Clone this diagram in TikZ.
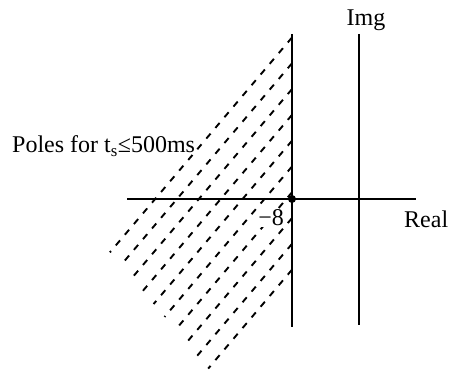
\documentclass[tikz,border=0pt]{standalone}
\usepackage{fontspec}
\setmainfont{Liberation Serif}
\begin{document}
\begin{tikzpicture}[x=1pt,y=-1pt,
  axisline/.style={line width=2.2pt},
  hatch/.style={line width=1.9pt,dash pattern=on 6.5pt off 7.5pt},
  lbl/.style={font=\fontsize{24}{28}\selectfont,inner sep=0pt},
  pole/.style={circle,fill=black,inner sep=0pt,minimum size=8pt}]
\useasboundingbox (0,0) rectangle (450,374);
% dashed region
\foreach \i in {0,...,9}{
  \pgfmathsetmacro{\ys}{37.5+25.8*\i}
  \pgfmathsetmacro{\xe}{109.9+10.92*\i}
  \pgfmathsetmacro{\ye}{\ys+1.18*(292-\xe)}
  \coordinate (hs\i) at (292,\ys);
  \coordinate (he\i) at (\xe,\ye);
  \draw[hatch] (hs\i) -- (he\i);
}
% axes
\coordinate (vt) at (292,34);
\coordinate (vb) at (292,327);
\coordinate (it) at (359,34);
\coordinate (ib) at (359,325);
\coordinate (rl) at (127,199);
\coordinate (rr) at (416,199);
\draw[axisline] (rl) -- (rr);
\draw[axisline] (vt) -- (vb);
\draw[axisline] (it) -- (ib);
\node[pole] (p) at (292,199) {};
% labels
\node[lbl,anchor=base] (img) at (366,25.5) {Img};
\node[lbl,anchor=base west] (real) at (404,228) {Real};
\node[lbl,anchor=base east,fill=white,inner sep=1pt] (m8) at (285,225.5) {−8};
\node[lbl,anchor=base west] (poles) at (12,153) {Poles for t\textsubscript{s}≤500ms};
\end{tikzpicture}
\end{document}
